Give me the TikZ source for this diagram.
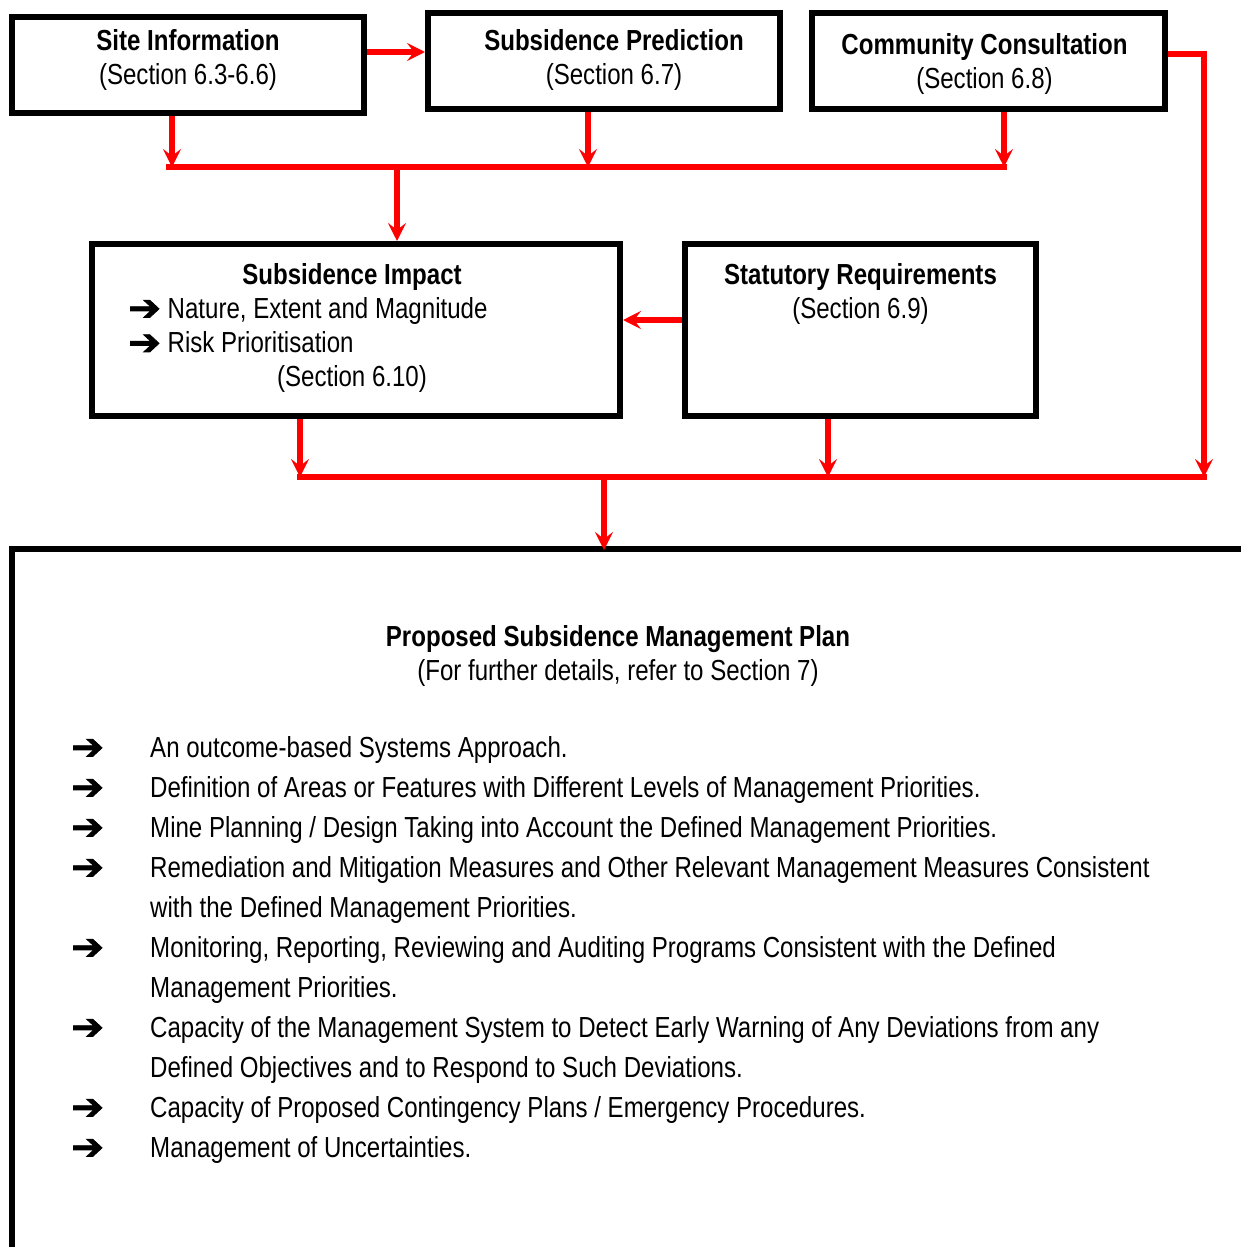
\documentclass[tikz,border=0pt]{standalone}
\usepackage{fontspec}
\setmainfont{Liberation Sans}[FakeStretch=0.83]
\newfontfamily\dingfont{DejaVu Sans Bold}[FakeBold=2]
\usetikzlibrary{positioning,arrows.meta,calc}

\newcommand{\pointer}{\raisebox{-2pt}{\scalebox{1.35}[1.25]{\dingfont ➔}}}

\tikzset{
  box/.style={draw, line width=6pt, inner sep=0pt},
  txt/.style={inner sep=0pt, align=center, font=\fontsize{29}{34.5}\selectfont},
  feed/.style={draw=red, line width=5.5pt, -{Stealth[length=18pt,width=18pt,inset=7pt]}},
  bus/.style={draw=red, line width=5.5pt},
}

\begin{document}
\begin{tikzpicture}[x=1pt, y=-1pt]
        \clip (0,0) rectangle (1241,1247);

        % top row
        \node[box, minimum width=352pt, minimum height=96pt] (site) at (188,65) {};
        \node[txt, below=15pt of site.north] (sitetxt) {\textbf{Site Information}\\(Section 6.3-6.6)};

        \node[box, minimum width=352pt, minimum height=96pt] (pred) at (604,61) {};
        \node[txt, below=19pt of pred.north, xshift=10pt] (predtxt) {\textbf{Subsidence Prediction}\\(Section 6.7)};

        \node[box, minimum width=353pt, minimum height=96pt] (comm) at (988.5,61) {};
        \node[txt, below=23pt of comm.north, xshift=-4pt] (commtxt) {\textbf{Community Consultation}\\(Section 6.8)};

        % second row
        \node[box, minimum width=528pt, minimum height=172pt] (impact) at (356,330) {};
        \node[txt, below=22pt of impact.north, xshift=-4pt] (impacthead) {\textbf{Subsidence Impact}};
        \node[txt, align=left, anchor=north west] (impactlist) at (128,297) {\pointer\ Nature, Extent and Magnitude\\\pointer\ Risk Prioritisation};
        \node[txt, anchor=north] (impactsec) at (352,365) {(Section 6.10)};

        \node[box, minimum width=351pt, minimum height=172pt] (stat) at (860.5,330) {};
        \node[txt, below=22pt of stat.north] (stattxt) {\textbf{Statutory Requirements}\\(Section 6.9)};

        % plan
        \node[box, minimum width=1290pt, minimum height=760pt, anchor=north west] (plan) at (9,546) {};
        \node[txt, anchor=north] (plantitle) at (618,625) {\textbf{Proposed Subsidence Management Plan}\\(For further details, refer to Section 7)};
        \node[inner sep=0pt, anchor=north west, font=\fontsize{29}{40}\selectfont] (planlist) at (71,729) {%
          \begin{tabular}{@{}p{79pt}@{}l@{}}
            \pointer & An outcome-based Systems Approach.\\
            \pointer & Definition of Areas or Features with Different Levels of Management Priorities.\\
            \pointer & Mine Planning / Design Taking into Account the Defined Management Priorities.\\
            \pointer & Remediation and Mitigation Measures and Other Relevant Management Measures Consistent\\
                     & with the Defined Management Priorities.\\
            \pointer & Monitoring, Reporting, Reviewing and Auditing Programs Consistent with the Defined\\
                     & Management Priorities.\\
            \pointer & Capacity of the Management System to Detect Early Warning of Any Deviations from any\\
                     & Defined Objectives and to Respond to Such Deviations.\\
            \pointer & Capacity of Proposed Contingency Plans / Emergency Procedures.\\
            \pointer & Management of Uncertainties.
          \end{tabular}};

        % bus lines
        \coordinate (upper) at (0,167);
        \coordinate (lower) at (0,477);
        \coordinate (rightrun) at (1204,477);

        \draw[feed] ([yshift=13pt]site.east) -- ([yshift=13pt]site.east -| pred.west);
        \draw[feed] ([xshift=-16pt]site.south) -- ([xshift=-16pt]site.south |- upper);
        \draw[feed] ([xshift=-16pt]pred.south) -- ([xshift=-16pt]pred.south |- upper);
        \draw[feed] ([xshift=15.5pt]comm.south) -- ([xshift=15.5pt]comm.south |- upper);
        \draw[bus] ([xshift=-22pt]site.south |- upper) -- ([xshift=18.5pt]comm.south |- upper);
        \draw[feed] ([xshift=41pt]impact.north |- upper) -- ([xshift=41pt]impact.north);

        \draw[feed] ([yshift=10pt]stat.west) -- ([yshift=10pt]stat.west -| impact.east);
        \draw[feed] ([xshift=-56pt]impact.south) -- ([xshift=-56pt]impact.south |- lower);
        \draw[feed] ([xshift=-32.5pt]stat.south) -- ([xshift=-32.5pt]stat.south |- lower);
        \draw[feed] ([yshift=7pt]comm.east) -| (rightrun);
        \draw[bus] ([xshift=-59pt]impact.south |- lower) -- ([xshift=3pt]rightrun);
        \draw[feed] (lower -| plantitle.north) ++(-14pt,0) -- ([yshift=-4pt]plan.north -| 604,0);
\end{tikzpicture}
\end{document}
